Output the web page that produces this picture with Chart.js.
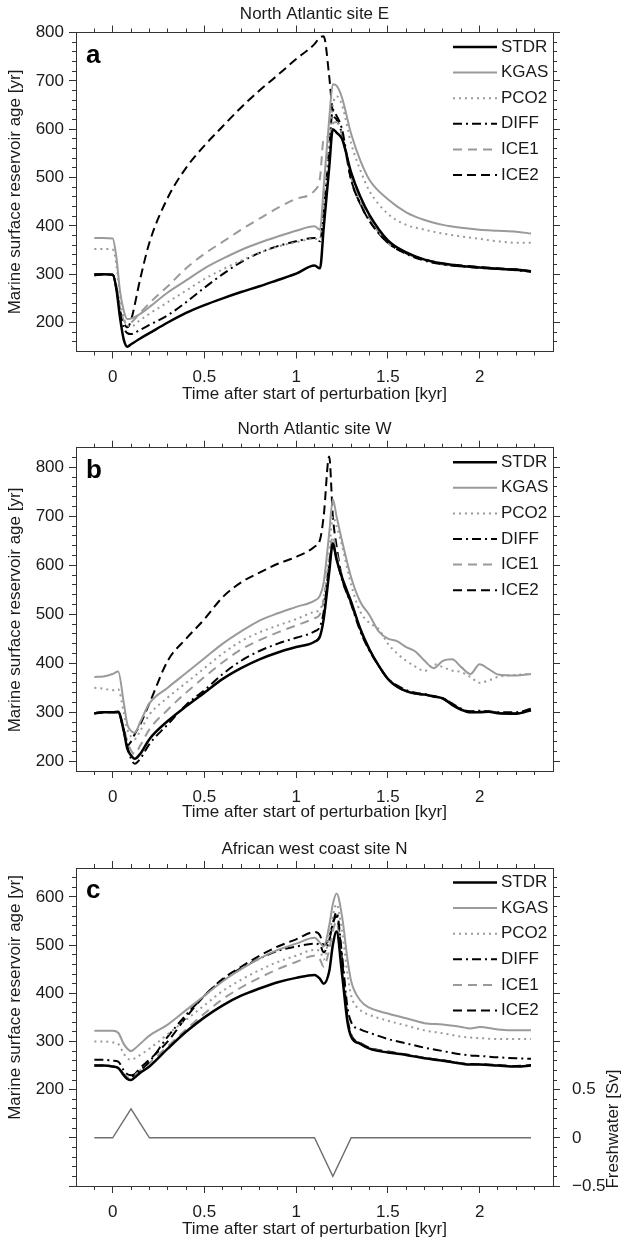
<!DOCTYPE html>
<html>
<head>
<meta charset="utf-8">
<script src="https://cdn.jsdelivr.net/npm/chart.js@4.4.1/dist/chart.umd.min.js"></script>
<style>
  body { margin: 0; background: #fff; }
  #wrap { width: 621px; height: 1240px; }
  canvas { display: block; }
</style>
</head>
<body>
<div id="wrap">
  <canvas id="panelA" width="621" height="413"></canvas>
  <canvas id="panelB" width="621" height="415"></canvas>
  <canvas id="panelC" width="621" height="412"></canvas>
</div>
<script>
/* ---- data ---- */
const seriesNames = ['STDR', 'KGAS', 'PCO2', 'DIFF', 'ICE1', 'ICE2'];

// panel a: North Atlantic site E
const timeA = [-0.1, -0.05, 0, 0.02, 0.04, 0.06, 0.08, 0.1, 0.15, 0.2, 0.3, 0.4, 0.5, 0.6, 0.7, 0.8, 0.9, 1.0, 1.1, 1.13,
               1.15, 1.18, 1.2, 1.22, 1.25, 1.3, 1.35, 1.4, 1.5, 1.6, 1.7, 1.8, 1.9, 2.0, 2.1, 2.2, 2.28];
const stdrA = [298, 300, 299, 270, 210, 165, 150, 155, 167, 178, 200, 220, 236, 250, 263, 275, 288, 301, 318, 312,
               395, 520, 600, 593, 580, 510, 460, 422, 370, 345, 330, 322, 317, 314, 311, 309, 306];
const kgasA = [375, 375, 374, 335, 265, 225, 207, 208, 218, 232, 262, 287, 312, 332, 350, 365, 378, 390, 399, 392,
               480, 620, 693, 690, 665, 590, 535, 495, 455, 428, 412, 402, 396, 392, 390, 388, 384];
const pco2A = [352, 352, 351, 320, 250, 210, 195, 192, 205, 218, 242, 266, 290, 310, 328, 344, 357, 366, 373, 372,
               450, 580, 650, 668, 650, 570, 515, 472, 425, 402, 392, 384, 378, 373, 368, 365, 365];
const diffA = [300, 300, 299, 270, 220, 190, 178, 176, 185, 195, 215, 242, 272, 300, 325, 344, 358, 368, 375, 368,
               430, 560, 640, 628, 600, 495, 445, 410, 365, 342, 328, 320, 316, 313, 311, 308, 305];
const ice1A = [300, 300, 299, 272, 230, 205, 197, 200, 220, 240, 275, 312, 342, 367, 392, 415, 437, 456, 473, 500,
               580, 585, 612, 615, 590, 500, 450, 415, 365, 343, 330, 320, 316, 313, 311, 308, 305];
const ice2A = [300, 300, 299, 270, 225, 200, 190, 205, 290, 365, 458, 520, 566, 606, 645, 680, 712, 745, 776, 790,
               792, 710, 634, 620, 590, 495, 445, 410, 365, 343, 330, 322, 318, 315, 312, 310, 306];

// panel b: North Atlantic site W
const timeB = [-0.1, -0.05, 0, 0.03, 0.06, 0.08, 0.1, 0.12, 0.15, 0.2, 0.3, 0.4, 0.5, 0.6, 0.7, 0.8, 0.9, 1.0, 1.1,
               1.13, 1.15, 1.18, 1.2, 1.22, 1.25, 1.3, 1.35, 1.4, 1.45, 1.5, 1.55, 1.6, 1.65, 1.7, 1.75,
               1.8, 1.85, 1.9, 1.95, 2.0, 2.05, 2.1, 2.2, 2.28];
const stdrB = [297, 300, 300, 301, 262, 225, 212, 205, 215, 245, 282, 312, 340, 368, 390, 408, 422, 433, 444,
               455, 490, 585, 645, 612, 575, 525, 470, 428, 395, 368, 352, 343, 338, 336, 332,
               328, 315, 305, 300, 300, 301, 298, 297, 304];
const kgasB = [372, 373, 378, 383, 320, 275, 262, 258, 280, 318, 350, 380, 410, 440, 465, 487, 502, 515, 528,
               538, 565, 665, 735, 700, 650, 575, 525, 498, 465, 450, 445, 433, 424, 405, 390,
               405, 408, 392, 378, 398, 388, 377, 375, 378];
const pco2B = [350, 348, 345, 347, 300, 265, 250, 245, 262, 295, 330, 360, 390, 420, 445, 463, 477, 490, 505,
               510, 535, 625, 700, 680, 640, 560, 505, 482, 470, 440, 420, 405, 393, 384, 398,
               392, 385, 382, 372, 360, 365, 372, 376, 378];
const diffB = [298, 300, 300, 300, 265, 230, 205, 195, 205, 235, 275, 315, 345, 378, 405, 425, 440, 452, 465,
               475, 505, 600, 640, 615, 570, 520, 465, 425, 395, 368, 355, 345, 340, 337, 333,
               328, 318, 307, 302, 303, 302, 300, 300, 307];
const ice1B = [298, 300, 300, 300, 270, 240, 222, 215, 232, 265, 305, 340, 372, 402, 428, 447, 463, 477, 492,
               500, 530, 610, 660, 625, 578, 525, 470, 428, 395, 368, 352, 343, 338, 336, 332,
               328, 315, 305, 300, 300, 301, 298, 297, 304];
const ice2B = [298, 300, 300, 300, 262, 232, 240, 255, 275, 318, 405, 450, 490, 535, 565, 585, 603, 617, 638,
               652, 700, 822, 700, 640, 575, 522, 468, 427, 395, 368, 352, 343, 338, 336, 332,
               328, 316, 306, 301, 301, 301, 299, 298, 305];

// panel c: African west coast site N
const timeC = [-0.1, -0.05, 0, 0.03, 0.06, 0.08, 0.1, 0.12, 0.15, 0.2, 0.3, 0.4, 0.5, 0.6, 0.7, 0.8, 0.9, 1.0, 1.1,
               1.13, 1.15, 1.18, 1.2, 1.22, 1.25, 1.28, 1.3, 1.35, 1.4, 1.5, 1.6, 1.7, 1.8, 1.9, 1.95,
               2.0, 2.1, 2.2, 2.28];
const stdrC = [250, 250, 248, 245, 230, 222, 220, 225, 235, 248, 285, 320, 350, 375, 395, 410, 423, 432, 438,
               430, 420, 445, 500, 528, 440, 340, 310, 295, 285, 277, 272, 265, 260, 254, 252,
               252, 250, 248, 250];
const kgasC = [322, 322, 322, 318, 295, 285, 280, 285, 295, 312, 335, 365, 395, 425, 450, 472, 490, 503, 515,
               505, 497, 540, 585, 607, 560, 470, 425, 385, 370, 358, 348, 338, 335, 330, 327,
               330, 325, 323, 323];
const pco2C = [300, 300, 298, 295, 275, 265, 262, 265, 272, 285, 315, 345, 375, 405, 428, 448, 465, 478, 490,
               488, 470, 520, 560, 585, 530, 440, 395, 365, 355, 343, 333, 323, 317, 310, 308,
               307, 305, 305, 305];
const diffC = [262, 262, 260, 258, 240, 232, 230, 232, 240, 258, 310, 355, 395, 428, 452, 472, 488, 497, 503,
               500, 485, 510, 545, 568, 480, 370, 340, 325, 318, 305, 296, 287, 280, 273, 271,
               270, 267, 265, 264];
const ice1C = [250, 250, 248, 245, 232, 226, 225, 230, 240, 255, 290, 325, 358, 388, 412, 432, 450, 465, 478,
               470, 455, 490, 530, 548, 450, 345, 312, 296, 286, 278, 272, 265, 260, 254, 252,
               252, 250, 248, 250];
const ice2C = [250, 250, 248, 245, 232, 226, 226, 232, 245, 262, 300, 350, 395, 430, 455, 478, 497, 512, 527,
               520, 500, 515, 545, 560, 470, 350, 314, 297, 287, 279, 273, 266, 261, 255, 253,
               253, 251, 249, 251];

// freshwater forcing (panel c, right axis)
const fwTime = [-0.1, 0, 0.1, 0.2, 1.1, 1.2, 1.3, 2.28];
const fwFlux = [0, 0, 0.3, 0, 0, -0.4, 0, 0];

// tick labels
const xTickLabels = [0, 0.5, 1, 1.5, 2];
const yTicksAB = [200, 300, 400, 500, 600, 700, 800];
const yTicksC = [0, 100, 200, 300, 400, 500, 600];
const yLabelsC = [200, 300, 400, 500, 600];
const fwTicks = [-0.5, 0, 0.5, 1, 1.5, 2, 2.5];
const fwLabels = [-0.5, 0, 0.5];

/* ---- styles ---- */
const FAMILY = "'Liberation Sans', Arial, Helvetica, sans-serif";
const FONT = { family: FAMILY, size: 17 };
const TEXT = '#1a1a1a';
const AXIS = '#333';
const styles = {
  STDR: { color: '#000', width: 2.5, dash: [] },
  KGAS: { color: '#9a9a9a', width: 2, dash: [] },
  PCO2: { color: '#9a9a9a', width: 2, dash: [2, 4] },
  DIFF: { color: '#000', width: 2, dash: [9, 4, 2, 4] },
  ICE1: { color: '#9a9a9a', width: 2, dash: [9, 6] },
  ICE2: { color: '#000', width: 2, dash: [9, 5] }
};

function fmt(v) {
  return v < 0 ? '\u2212' + Math.abs(v) : String(v);
}

// minor tick positions strictly between the axis ends
function inner(lo, hi, step) {
  const out = [];
  const n = Math.round((hi - lo) / step);
  for (let i = 1; i < n; i++) out.push(Math.round((lo + i * step) * 1000) / 1000);
  if (lo + n * step < hi - 1e-9) out.push(Math.round((lo + n * step) * 1000) / 1000);
  return out;
}

function makeAxis(o) {
  const horiz = o.position === 'top' || o.position === 'bottom';
  const ax = {
    type: 'linear',
    axis: horiz ? 'x' : 'y',
    position: o.position,
    min: o.min,
    max: o.max,
    weight: o.minor ? 0 : 1,
    grid: { drawOnChartArea: false, drawTicks: true, tickLength: o.minor ? 4 : 7, tickColor: AXIS, tickWidth: 1 },
    border: { display: !o.minor, color: AXIS, width: 1 },
    ticks: {
      display: !!o.labels,
      autoSkip: false,
      maxRotation: 0,
      color: TEXT,
      font: FONT,
      padding: o.pad || 0,
      callback: v => (o.labels && o.labels.includes(v)) ? fmt(v) : ''
    },
    afterBuildTicks: s => { s.ticks = o.ticks.map(v => ({ value: v })); },
    afterFit: s => { if (horiz) s.height = o.size; else s.width = o.size; }
  };
  if (o.title) ax.title = o.title;
  return ax;
}

const decor = {
  id: 'decor',
  afterDatasetsDraw(chart, args, opts) {
    const ctx = chart.ctx, area = chart.chartArea;
    ctx.save();
    // legend in the upper right
    ctx.font = '17px ' + FAMILY;
    ctx.textBaseline = 'middle';
    ctx.textAlign = 'left';
    let row = 0;
    chart.data.datasets.forEach(ds => {
      if (!ds.inLegend) return;
      const y = area.top + opts.legendTop + row * opts.legendGap;
      ctx.beginPath();
      ctx.setLineDash(ds.borderDash || []);
      ctx.lineWidth = ds.borderWidth;
      ctx.strokeStyle = ds.borderColor;
      ctx.moveTo(area.right - 100, y);
      ctx.lineTo(area.right - 56, y);
      ctx.stroke();
      ctx.setLineDash([]);
      ctx.fillStyle = TEXT;
      ctx.fillText(ds.label, area.right - 52, y);
      row++;
    });
    // panel letter
    ctx.font = 'bold 26px ' + FAMILY;
    ctx.textBaseline = 'alphabetic';
    ctx.fillStyle = '#000';
    ctx.fillText(opts.letter, area.left + 10, area.top + 30);
    // rotated side titles
    ctx.font = '17px ' + FAMILY;
    ctx.fillStyle = TEXT;
    ctx.textAlign = 'center';
    ctx.textBaseline = 'middle';
    (opts.sideTitles || []).forEach(t => {
      ctx.save();
      ctx.translate(t.x, t.y);
      ctx.rotate(-Math.PI / 2);
      ctx.fillText(t.text, 0, 0);
      ctx.restore();
    });
    ctx.restore();
  }
};

function buildPanel(p) {
  const datasets = seriesNames.map(name => ({
    label: name,
    inLegend: true,
    data: p.time.map((t, i) => ({ x: t, y: p.series[name][i] })),
    borderColor: styles[name].color,
    borderWidth: styles[name].width,
    borderDash: styles[name].dash,
    pointRadius: 0,
    fill: false,
    cubicInterpolationMode: 'monotone',
    xAxisID: 'x',
    yAxisID: 'y'
  }));
  if (p.freshwater) {
    datasets.push({
      label: 'Freshwater',
      inLegend: false,
      data: fwTime.map((t, i) => ({ x: t, y: fwFlux[i] })),
      borderColor: '#6e6e6e',
      borderWidth: 1.4,
      pointRadius: 0,
      fill: false,
      tension: 0,
      xAxisID: 'x',
      yAxisID: 'yr'
    });
  }

  const xMin = -0.2, xMax = 2.4;
  const scales = {
    x: makeAxis({ position: 'bottom', min: xMin, max: xMax, ticks: xTickLabels, labels: xTickLabels, pad: 9,
      size: p.canvasH - p.bottom,
      title: { display: true, text: 'Time after start of perturbation [kyr]', color: TEXT, font: FONT,
               padding: { top: 0, bottom: p.xTitlePad } } }),
    xm: makeAxis({ position: 'bottom', minor: true, min: xMin, max: xMax, ticks: inner(xMin, xMax, 0.1), size: 0 }),
    x2: makeAxis({ position: 'top', min: xMin, max: xMax, ticks: xTickLabels, size: p.top,
      title: { display: true, text: p.title, color: TEXT, font: FONT, padding: { top: p.titlePad, bottom: 0 } } }),
    x2m: makeAxis({ position: 'top', minor: true, min: xMin, max: xMax, ticks: inner(xMin, xMax, 0.1), size: 0 }),
    y: makeAxis({ position: 'left', min: p.yMin, max: p.yMax, ticks: p.yTicks, labels: p.yLabels, pad: 5, size: 76 }),
    ym: makeAxis({ position: 'left', minor: true, min: p.yMin, max: p.yMax, ticks: inner(p.yMin, p.yMax, 20), size: 0 })
  };
  if (p.freshwater) {
    const rMin = p.yMin / 200 - 0.5, rMax = p.yMax / 200 - 0.5;
    scales.yr = makeAxis({ position: 'right', min: rMin, max: rMax, ticks: fwTicks, labels: fwLabels, pad: 12, size: 68 });
    scales.yrm = makeAxis({ position: 'right', minor: true, min: rMin, max: rMax, ticks: inner(rMin, rMax, 0.1), size: 0 });
  } else {
    scales.y2 = makeAxis({ position: 'right', min: p.yMin, max: p.yMax, ticks: p.yTicks, size: 68 });
    scales.y2m = makeAxis({ position: 'right', minor: true, min: p.yMin, max: p.yMax, ticks: inner(p.yMin, p.yMax, 20), size: 0 });
  }

  const sideTitles = [{ text: 'Marine surface reservoir age [yr]', x: 15, y: p.yTitleY }];
  if (p.freshwater) sideTitles.push({ text: 'Freshwater [Sv]', x: 613, y: p.rTitleY });

  new Chart(document.getElementById(p.id), {
    type: 'line',
    data: { datasets },
    options: {
      responsive: false,
      animation: false,
      devicePixelRatio: 1,
      layout: { padding: 0, autoPadding: false },
      scales,
      plugins: {
        legend: { display: false },
        tooltip: { enabled: false },
        decor: { letter: p.letter, legendTop: 14.5, legendGap: 25.6, sideTitles }
      }
    },
    plugins: [decor]
  });
}

buildPanel({
  id: 'panelA', title: 'North Atlantic site E', letter: 'a',
  time: timeA,
  series: { STDR: stdrA, KGAS: kgasA, PCO2: pco2A, DIFF: diffA, ICE1: ice1A, ICE2: ice2A },
  yMin: 140, yMax: 800, yTicks: yTicksAB, yLabels: yTicksAB,
  canvasH: 413, top: 32.5, bottom: 351.5, titlePad: 4, xTitlePad: 8, yTitleY: 192
});
buildPanel({
  id: 'panelB', title: 'North Atlantic site W', letter: 'b',
  time: timeB,
  series: { STDR: stdrB, KGAS: kgasB, PCO2: pco2B, DIFF: diffB, ICE1: ice1B, ICE2: ice2B },
  yMin: 180, yMax: 840, yTicks: yTicksAB, yLabels: yTicksAB,
  canvasH: 415, top: 34.7, bottom: 358, titlePad: 6, xTitlePad: 5, yTitleY: 197
});
buildPanel({
  id: 'panelC', title: 'African west coast site N', letter: 'c',
  time: timeC,
  series: { STDR: stdrC, KGAS: kgasC, PCO2: pco2C, DIFF: diffC, ICE1: ice1C, ICE2: ice2C },
  yMin: 0, yMax: 660, yTicks: yTicksC, yLabels: yLabelsC, freshwater: true,
  canvasH: 412, top: 40, bottom: 358, titlePad: 11, xTitlePad: 0, yTitleY: 169.5, rTitleY: 301
});
</script>
</body>
</html>
